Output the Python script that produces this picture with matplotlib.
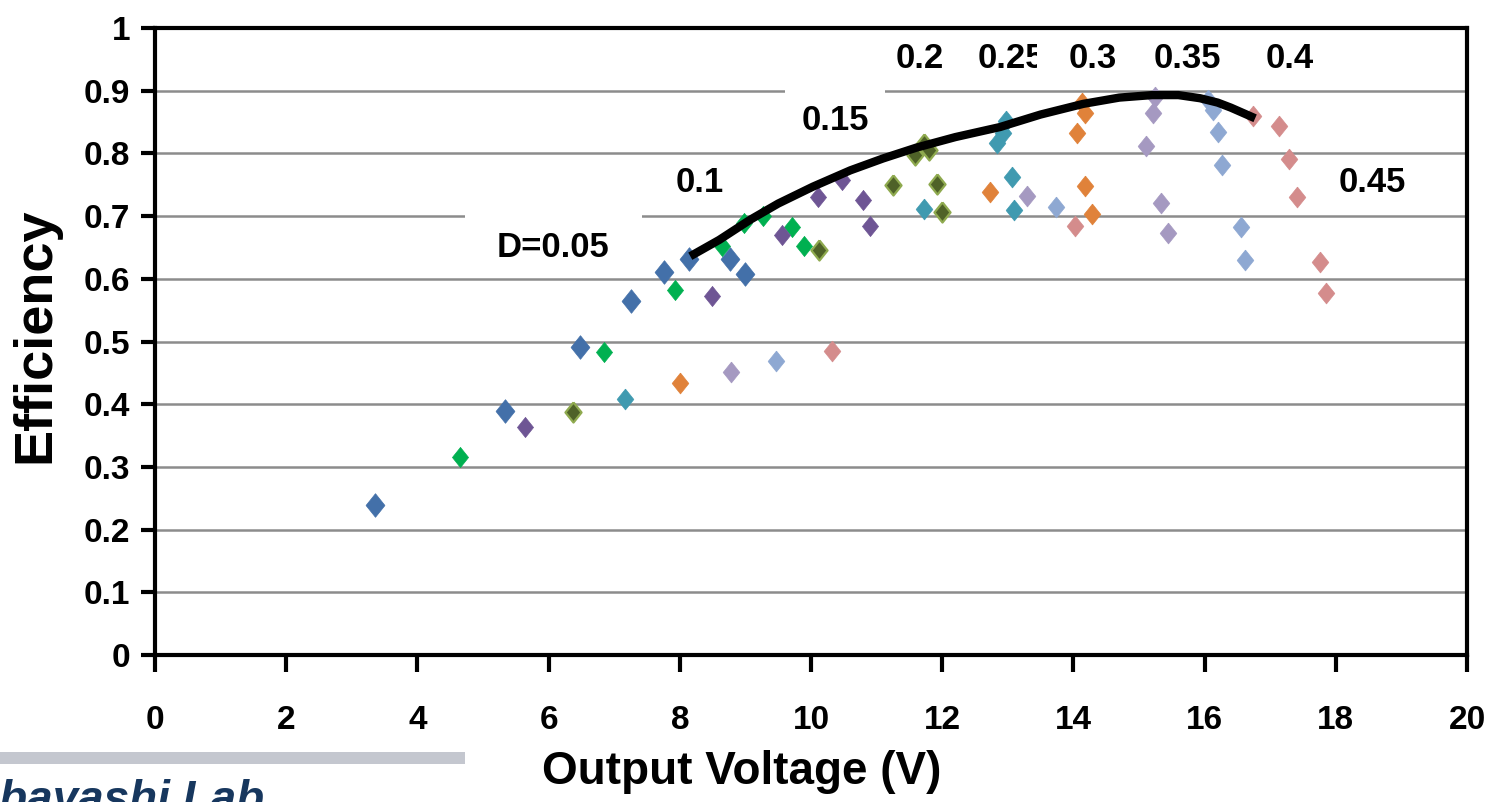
import matplotlib
matplotlib.use("Agg")
import matplotlib.pyplot as plt
from matplotlib.patches import Rectangle

# measured points, one list pair per marker colour
blue_x = [3.35, 5.34, 6.48, 7.26, 7.76, 8.14, 8.77, 9.00]
blue_y = [0.239, 0.389, 0.491, 0.565, 0.611, 0.632, 0.632, 0.608]

green_x = [4.65, 6.85, 7.93, 8.64, 8.98, 9.27, 9.71, 9.89]
green_y = [0.316, 0.483, 0.582, 0.652, 0.689, 0.700, 0.683, 0.652]

purple_x = [5.64, 8.49, 9.56, 10.10, 10.47, 10.79, 10.90]
purple_y = [0.364, 0.573, 0.670, 0.731, 0.758, 0.726, 0.684]

olive_x = [6.37, 10.12, 11.25, 11.59, 11.72, 11.80, 11.92, 12.00]
olive_y = [0.388, 0.646, 0.750, 0.797, 0.815, 0.805, 0.751, 0.707]

teal_x = [7.16, 11.72, 12.83, 12.93, 12.98, 13.06, 13.09]
teal_y = [0.408, 0.711, 0.816, 0.832, 0.852, 0.762, 0.710]

orange_x = [8.00, 12.73, 14.05, 14.13, 14.18, 14.18, 14.28]
orange_y = [0.434, 0.738, 0.832, 0.880, 0.864, 0.748, 0.703]

lavender_x = [8.78, 13.29, 15.10, 15.21, 15.24, 15.33, 15.44]
lavender_y = [0.451, 0.732, 0.812, 0.864, 0.890, 0.721, 0.673]

lightblue_x = [9.47, 13.73, 16.05, 16.13, 16.20, 16.27, 16.55, 16.61]
lightblue_y = [0.469, 0.714, 0.885, 0.869, 0.834, 0.781, 0.683, 0.630]

pink_x = [10.32, 14.02, 16.74, 17.13, 17.29, 17.41, 17.76, 17.85]
pink_y = [0.485, 0.684, 0.860, 0.843, 0.791, 0.731, 0.627, 0.577]

# black envelope curve
trend_x = [8.16, 8.60, 9.07, 9.50, 10.03, 10.60, 11.10, 11.60, 12.20, 12.88,
           13.50, 14.15, 14.70, 15.20, 15.60, 15.93, 16.20, 16.40, 16.77]
trend_y = [0.636, 0.662, 0.694, 0.720, 0.747, 0.773, 0.792, 0.809, 0.826, 0.842,
           0.862, 0.879, 0.889, 0.893, 0.893, 0.888, 0.881, 0.873, 0.856]

# duty-cycle labels
duty_labels = ["D=0.05", "0.1", "0.15", "0.2", "0.25", "0.3", "0.35", "0.4", "0.45"]
duty_x = [6.07, 8.31, 10.37, 11.66, 13.06, 14.30, 15.73, 17.30, 18.55]
duty_y = [0.650, 0.753, 0.853, 0.952, 0.952, 0.952, 0.952, 0.952, 0.753]

# white label backgrounds (x0, x1, y0, y1) that hide the grid lines
label_boxes = [(4.73, 7.42, 0.606, 0.707), (9.60, 11.13, 0.805, 0.901)]
box_03 = (13.44, 15.02, 0.905, 0.985)

x_ticks = [0, 2, 4, 6, 8, 10, 12, 14, 16, 18, 20]
y_ticks = [0, 0.1, 0.2, 0.3, 0.4, 0.5, 0.6, 0.7, 0.8, 0.9, 1.0]
y_ticklabels = ["0", "0.1", "0.2", "0.3", "0.4", "0.5", "0.6", "0.7", "0.8", "0.9", "1"]

arial = ["Liberation Sans", "DejaVu Sans"]
diamond = [(0, 1), (0.8, 0), (0, -1), (-0.8, 0), (0, 1)]

fig = plt.figure(figsize=(14.95, 8.02), dpi=100)
ax = fig.add_axes([155 / 1495, 1 - 655 / 802, (1467 - 155) / 1495, (655 - 28) / 802])

series = [
    (blue_x, blue_y, "#4370A9", "#4370A9", 17),
    (green_x, green_y, "#00B050", "#00B050", 14.5),
    (purple_x, purple_y, "#6E5594", "#6E5594", 14.5),
    (olive_x, olive_y, "#4F6228", "#8FAA4F", 14.5),
    (teal_x, teal_y, "#409AB0", "#409AB0", 15),
    (orange_x, orange_y, "#E0823A", "#E0823A", 15),
    (lavender_x, lavender_y, "#A599C1", "#A599C1", 15),
    (lightblue_x, lightblue_y, "#8EA8D2", "#8EA8D2", 15),
    (pink_x, pink_y, "#D48C8C", "#D48C8C", 15),
]
for xs, ys, fc, ec, ms in series:
    ax.plot(xs, ys, linestyle="none", marker=diamond, markersize=ms,
            markerfacecolor=fc, markeredgecolor=ec,
            markeredgewidth=1.6 if fc != ec else 0.5, zorder=3)

ax.plot(trend_x, trend_y, color="black", linewidth=6, solid_capstyle="butt", zorder=4)

for x0, x1, y0, y1 in label_boxes:
    ax.add_patch(Rectangle((x0, y0), x1 - x0, y1 - y0, facecolor="white",
                           edgecolor="none", zorder=2.2))
ax.add_patch(Rectangle((box_03[0], box_03[2]), box_03[1] - box_03[0], box_03[3] - box_03[2],
                       facecolor="white", edgecolor="none", zorder=2.6))

for txt, tx, ty in zip(duty_labels, duty_x, duty_y):
    ax.text(tx, ty, txt, ha="center", va="center", fontsize=25, fontweight="bold",
            family=arial, zorder=2.7 if txt == "0.3" else 2.5)

ax.set_xlim(0, 20)
ax.set_ylim(0, 1.0)
ax.set_xticks(x_ticks)
ax.set_xticklabels([str(v) for v in x_ticks], fontsize=24, fontweight="bold", family=arial)
ax.set_yticks(y_ticks)
ax.set_yticklabels(y_ticklabels, fontsize=24, fontweight="bold", family=arial)

ax.yaxis.grid(True, color="#8C8C8C", linewidth=1.8)
ax.set_axisbelow(True)
for side in ["left", "right", "top", "bottom"]:
    ax.spines[side].set_linewidth(3)
    ax.spines[side].set_color("black")
ax.tick_params(axis="y", direction="out", length=10, width=3, pad=8)
ax.tick_params(axis="x", direction="out", length=12, width=3, pad=24)

ax.set_xlabel("Output Voltage (V)", fontsize=33, fontweight="bold", family=arial)
ax.xaxis.set_label_coords((742 - 155) / 1312, (655 - 750) / 627)
ax.set_ylabel("Efficiency", fontsize=39, fontweight="bold", family=arial)
ax.yaxis.set_label_coords((60 - 155) / 1312, (655 - 335) / 627)

# slide footer remnant
fig.patches.append(Rectangle((0, 1 - 764 / 802), 465 / 1495, 12 / 802,
                             transform=fig.transFigure, facecolor="#C4C7CF", edgecolor="none"))
fig.text(-62 / 1495, -11 / 802, "Kobayashi Lab", fontsize=33, fontweight="bold",
         fontstyle="italic", color="#17375E", family=arial, ha="left", va="baseline")

fig.savefig("out.png", dpi=100)
